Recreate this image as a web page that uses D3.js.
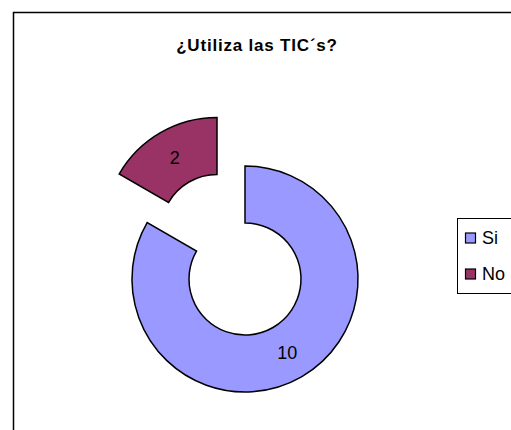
<!DOCTYPE html>
<html><head><meta charset="utf-8">
<script src="https://cdn.jsdelivr.net/npm/d3@7"></script>
<style>body{margin:0;background:#fff}svg{display:block}</style>
</head><body>
<svg id="c" width="511" height="430"></svg>
<script>
const categories = ["Si", "No"];
const values = [10, 2];
const colors = ["#9999FF", "#993366"];
const title = "¿Utiliza las TIC´s?";

const svg = d3.select("#c");
const font = "Arial, 'Liberation Sans', sans-serif";

// chart frame
svg.append("rect").attr("x", 13.5).attr("y", 12.5).attr("width", 520).attr("height", 440)
  .attr("fill", "#fff").attr("stroke", "#000").attr("stroke-width", 1.5);

svg.append("text").attr("x", 257).attr("y", 51).attr("text-anchor", "middle")
  .attr("font-family", font).attr("font-weight", "bold").attr("font-size", 17)
  .attr("letter-spacing", 0.8).text(title);

const cx = 245, cy = 279, R = 113, r = 56, explode = 56;
const pie = d3.pie().sort(null).value(d => d)(values);
const arc = d3.arc().innerRadius(r).outerRadius(R);
const g = svg.append("g").attr("transform", `translate(${cx},${cy})`);
const slices = g.selectAll("g.s").data(pie).join("g")
  .attr("transform", (d, i) => {
    if (i === 0) return null;
    const a = (d.startAngle + d.endAngle) / 2;
    return `translate(${Math.sin(a) * explode},${-Math.cos(a) * explode})`;
  });
slices.append("path").attr("d", arc).attr("fill", (d, i) => colors[i])
  .attr("stroke", "#000").attr("stroke-width", 1.5).attr("stroke-linejoin", "miter");
slices.append("text").attr("transform", d => `translate(${arc.centroid(d)})`)
  .attr("text-anchor", "middle").attr("dy", "0.36em")
  .attr("font-family", font).attr("font-size", 18).attr("fill", "#000")
  .text(d => d.data);

// legend
svg.append("rect").attr("x", 457.5).attr("y", 218.5).attr("width", 80).attr("height", 75)
  .attr("fill", "#fff").attr("stroke", "#000").attr("stroke-width", 1);
const lg = svg.append("g");
const ly = d3.scalePoint().domain(categories).range([238, 274]);
categories.forEach((c, i) => {
  lg.append("rect").attr("x", 465.5).attr("y", ly(c) - 5).attr("width", 10).attr("height", 10)
    .attr("fill", colors[i]).attr("stroke", "#000").attr("stroke-width", 1.2);
  lg.append("text").attr("x", 482).attr("y", ly(c)).attr("dy", "0.36em")
    .attr("font-family", font).attr("font-size", 18).text(c);
});
</script>
</body></html>
